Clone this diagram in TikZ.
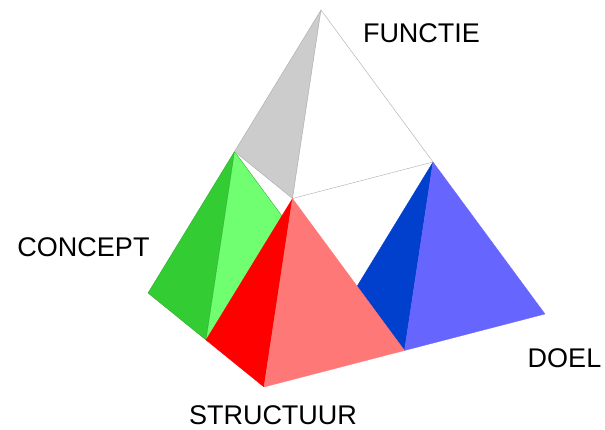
\documentclass[tikz,border=0pt]{standalone}
\usepackage{fontspec}
\setmainfont{Liberation Sans}
\usetikzlibrary{calc}
\definecolor{ttcctt}{rgb}{0.2,0.8,0.2}
\definecolor{xqffxq}{rgb}{0.44,1,0.44}
\definecolor{ffqqqq}{rgb}{1,0,0}
\definecolor{ffxxxx}{rgb}{1,0.47,0.47}
\definecolor{qquqcc}{rgb}{0,0.25,0.8}
\definecolor{wwwwff}{rgb}{0.4,0.4,1}
\definecolor{cccccc}{rgb}{0.8,0.8,0.8}
\definecolor{aaaaaa}{rgb}{0.67,0.67,0.67}

\begin{document}
\begin{tikzpicture}[line cap=round,line join=round,x=1.0pt,y=-1.0pt]
\useasboundingbox (0,0) rectangle (605,429);
% corners of the big tetrahedron
\coordinate (T) at (321,10);
\coordinate (L) at (148,293);
\coordinate (F) at (264,387);
\coordinate (R) at (545,314);
% midpoints of the edges
\coordinate (TL) at ($(T)!0.5!(L)$);
\coordinate (TF) at ($(T)!0.5!(F)$);
\coordinate (TR) at ($(T)!0.5!(R)$);
\coordinate (LF) at ($(L)!0.5!(F)$);
\coordinate (LR) at ($(L)!0.5!(R)$);
\coordinate (FR) at ($(F)!0.5!(R)$);
% concept
\filldraw [fill=ttcctt,draw=ttcctt!80!black,line width=0.3pt] (TL) -- (L) -- (LF) -- cycle;
\filldraw [fill=xqffxq,draw=ttcctt!80!black,line width=0.3pt] (TL) -- (LF) -- (LR) -- cycle;
% doel
\filldraw [fill=qquqcc,draw=qquqcc,line width=0.3pt] (TR) -- (LR) -- (FR) -- cycle;
\filldraw [fill=wwwwff,draw=wwwwff,line width=0.3pt] (TR) -- (FR) -- (R) -- cycle;
% functie
\filldraw [fill=cccccc,draw=aaaaaa,line width=0.4pt] (T) -- (TL) -- (TF) -- cycle;
\filldraw [fill=white,draw=aaaaaa,line width=0.4pt] (T) -- (TF) -- (TR) -- cycle;
% structuur
\filldraw [fill=ffqqqq,draw=ffqqqq,line width=0.3pt] (TF) -- (LF) -- (F) -- cycle;
\filldraw [fill=ffxxxx,draw=ffxxxx,line width=0.3pt] (TF) -- (F) -- (FR) -- cycle;
% labels
\begin{scope}[every node/.style={inner sep=0pt,anchor=base,text depth=0pt,font=\fontsize{27}{30}\selectfont}]
\node (functie) at (421.5,42.7) {FUNCTIE};
\node (concept) at (83.5,256) {CONCEPT};
\node (doel) at (564.5,367) {DOEL};
\node (structuur) at (273,424) {STRUCTUUR};
\end{scope}
\end{tikzpicture}
\end{document}
